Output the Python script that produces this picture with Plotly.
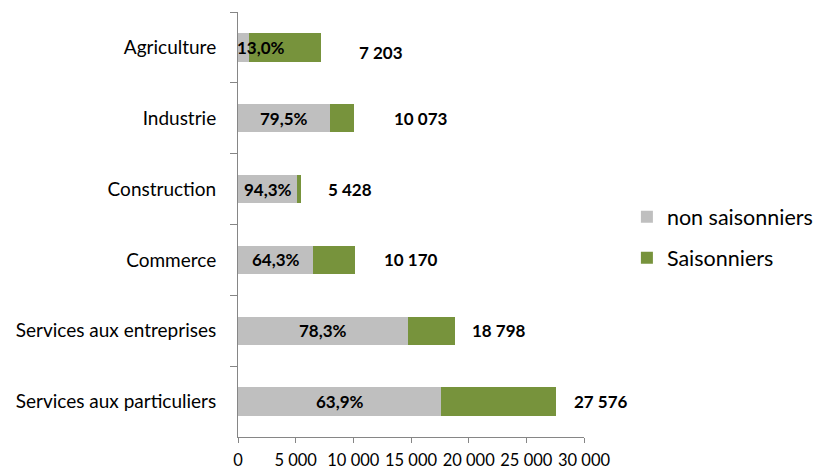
import plotly.graph_objects as go

categories = ["Agriculture", "Industrie", "Construction", "Commerce",
              "Services aux entreprises", "Services aux particuliers"]
non_saisonniers = [936, 8008, 5119, 6539, 14719, 17621]
saisonniers = [6267, 2065, 309, 3631, 4079, 9955]
totals = [7203, 10073, 5428, 10170, 18798, 27576]
total_labels = ["7 203", "10 073", "5 428", "10 170", "18 798", "27 576"]
pct_labels = ["13,0%", "79,5%", "94,3%", "64,3%", "78,3%", "63,9%"]
x_tickvals = [0, 5000, 10000, 15000, 20000, 25000, 30000]
x_ticktext = ["0", "5 000", "10 000", "15 000", "20 000", "25 000", "30 000"]

# label placement styling (pixels)
total_xshift = [36, 38, 25, 27, 15, 16]
total_yshift = [-5, 0, 0, 0, 0, 0]

FONT = "Lato, 'Open Sans', sans-serif"
GREY = "#BFBFBF"
GREEN = "#77933C"
AXIS = "#868686"

fig = go.Figure()
fig.add_trace(go.Bar(y=categories, x=non_saisonniers, orientation="h",
                     name="non saisonniers", marker=dict(color=GREY, line=dict(width=0)),
                     legendgroup="a", hoverinfo="skip"))
fig.add_trace(go.Bar(y=categories, x=saisonniers, orientation="h",
                     name="Saisonniers", marker=dict(color=GREEN, line=dict(width=0)),
                     legendgroup="b", hoverinfo="skip"))

annotations = []
for i, c in enumerate(categories):
    if i == 0:
        annotations.append(dict(x=0, y=c, text="<b>%s</b>" % pct_labels[i], showarrow=False,
                                xanchor="left", yanchor="middle", xshift=-3,
                                font=dict(family=FONT, size=17, color="black")))
    else:
        annotations.append(dict(x=non_saisonniers[i] / 2, y=c, text="<b>%s</b>" % pct_labels[i],
                                showarrow=False, xanchor="center", yanchor="middle",
                                font=dict(family=FONT, size=17, color="black")))
    annotations.append(dict(x=totals[i], y=c, text="<b>%s</b>" % total_labels[i], showarrow=False,
                            xanchor="left", yanchor="middle", xshift=total_xshift[i],
                            yshift=total_yshift[i],
                            font=dict(family=FONT, size=17, color="black")))

fig.update_layout(
    width=822, height=471,
    barmode="stack", bargap=0.6,
    plot_bgcolor="white", paper_bgcolor="white",
    margin=dict(l=238, r=238, t=12, b=34, autoexpand=False),
    font=dict(family=FONT, size=16, color="black"),
    legend=dict(x=1.124, y=0.47, xanchor="left", yanchor="middle",
                traceorder="grouped", tracegroupgap=10,
                font=dict(family=FONT, size=21.5, color="black"),
                bgcolor="rgba(0,0,0,0)"),
    annotations=annotations,
    showlegend=True,
)
fig.update_xaxes(range=[0, 30000], tickvals=x_tickvals, ticktext=x_ticktext,
                 showgrid=False, zeroline=False, showline=True, linecolor=AXIS, linewidth=1,
                 ticks="outside", ticklen=5, tickcolor=AXIS, automargin=False,
                 ticklabelstandoff=3,
                 tickfont=dict(family=FONT, size=16.5, color="black"))
fig.update_yaxes(categoryorder="array", categoryarray=categories, autorange="reversed",
                 showgrid=False, showline=True, linecolor=AXIS, linewidth=1,
                 ticks="outside", ticklen=7, tickcolor=AXIS, tickson="boundaries",
                 ticklabelstandoff=17, automargin=False,
                 tickfont=dict(family=FONT, size=19, color="black"))

fig.write_html("out.html", config={"displayModeBar": False},
               post_script="document.body.style.margin='0';document.body.style.overflow='hidden';")
